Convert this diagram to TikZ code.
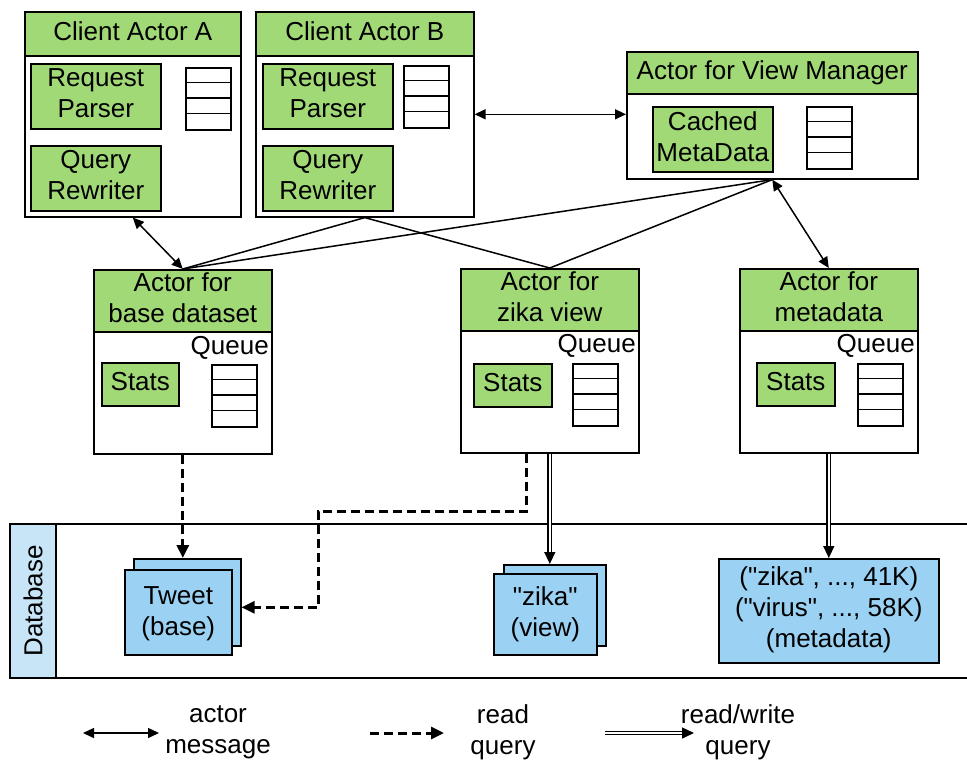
\documentclass[tikz,border=0pt]{standalone}
\usepackage{fontspec}
\setmainfont{Liberation Sans}
\usetikzlibrary{arrows.meta,positioning,calc}

\definecolor{actgreen}{RGB}{162,217,119}
\definecolor{dbblue}{RGB}{155,209,242}
\definecolor{dblight}{RGB}{199,229,247}

\begin{document}
\begin{tikzpicture}[
  x=1pt, y=-1pt,
  every node/.style={font=\fontsize{26}{31}\selectfont, inner sep=0pt, align=center},
  body/.style={rectangle, draw, fill=white, line width=1.6pt, anchor=north west},
  head/.style={body, fill=actgreen, text depth=6pt},
  part/.style={body, fill=actgreen, text depth=6pt},
  qbox/.style={body, minimum width=45pt, minimum height=62pt},
  table/.style={body, fill=dbblue},
  msg/.style={{Triangle[length=11pt,width=10pt]}-{Triangle[length=11pt,width=10pt]}, line width=1.5pt},
  rd/.style={-{Triangle[length=13pt,width=12pt]}, line width=3pt, dash pattern=on 9pt off 5pt},
  rw/.style={-{Triangle[length=12pt,width=11pt]}, double, double distance=2pt, line width=1.4pt},
  link/.style={line width=1.5pt}
]
\useasboundingbox (0,0) rectangle (967,761);

% client actors
\node[body, minimum width=216pt, minimum height=205pt] (clientA) at (24,11) {};
\node[head, minimum width=216pt, minimum height=44pt] (clientAh) at (24,11) {Client Actor A};
\node[part, minimum width=130pt, minimum height=65pt] (parserA) at (30,63) {Request\\Parser};
\node[part, minimum width=130pt, minimum height=65pt] (rewriterA) at (30,145) {Query\\Rewriter};
\node[qbox] (qA) at (185,67) {};

\node[body, minimum width=218pt, minimum height=205pt] (clientB) at (255,11) {};
\node[head, minimum width=218pt, minimum height=44pt] (clientBh) at (255,11) {Client Actor B};
\node[part, minimum width=130pt, minimum height=65pt] (parserB) at (262,63) {Request\\Parser};
\node[part, minimum width=130pt, minimum height=65pt] (rewriterB) at (262,145) {Query\\Rewriter};
\node[qbox] (qB) at (403,65) {};

% view manager
\node[body, minimum width=291pt, minimum height=127pt] (viewMgr) at (626,51) {};
\node[head, minimum width=291pt, minimum height=42pt] (viewMgrh) at (626,51) {Actor for View Manager};
\node[part, minimum width=120pt, minimum height=65pt] (cached) at (652,106) {Cached\\MetaData};
\node[qbox] (qV) at (806,106) {};

% dataset actors
\node[body, minimum width=178pt, minimum height=184pt] (base) at (93,269) {};
\node[head, minimum width=178pt, minimum height=62pt] (baseh) at (93,269) {Actor for\\base dataset};
\node[part, minimum width=77pt, minimum height=43pt] (statsBase) at (101,362) {Stats};
\node[qbox] (qBase) at (211,364) {};
\node[anchor=east] (qlBase) at (269,348) {Queue};

\node[body, minimum width=178pt, minimum height=184pt] (zika) at (460,268) {};
\node[head, minimum width=178pt, minimum height=62pt] (zikah) at (460,268) {Actor for\\zika view};
\node[part, minimum width=78pt, minimum height=43pt] (statsZika) at (473,363) {Stats};
\node[qbox] (qZika) at (572,363) {};
\node[anchor=east] (qlZika) at (636,346) {Queue};

\node[body, minimum width=178pt, minimum height=184pt] (meta) at (739,268) {};
\node[head, minimum width=178pt, minimum height=62pt] (metah) at (739,268) {Actor for\\metadata};
\node[part, minimum width=78pt, minimum height=43pt] (statsMeta) at (756,362) {Stats};
\node[qbox] (qMeta) at (857,363) {};
\node[anchor=east] (qlMeta) at (915,346) {Queue};

\foreach \q in {qA,qB,qV,qBase,qZika,qMeta}
  \foreach \k in {1,2,3}
    \draw[line width=1.6pt] ($(\q.north west)+(0,15.5*\k)$) -- ($(\q.north east)+(0,15.5*\k)$);

% database
\draw[line width=1.6pt] (967,524) -- (10,524) -- (10,678) -- (967,678);
\node[draw, fill=dblight, line width=1.6pt, rotate=90, minimum width=154pt, minimum height=46pt] (dbLabel) at (33,601) {Database};

\node[table, minimum width=107pt, minimum height=87pt] (tweetB) at (133,558) {};
\node[table, minimum width=107pt, minimum height=85pt, text depth=3pt] (tweet) at (124,569) {Tweet\\(base)};
\node[table, minimum width=102pt, minimum height=81pt] (zikaTabB) at (503,564) {};
\node[table, minimum width=103pt, minimum height=81pt] (zikaTab) at (493,573) {\textquotedbl zika\textquotedbl\\(view)};
\node[table, minimum width=220pt, minimum height=104pt, text depth=8pt] (metaTab) at (718,558) {(\textquotedbl zika\textquotedbl, ..., 41K)\\(\textquotedbl virus\textquotedbl, ..., 58K)\\(metadata)};

% messages between actors
\draw[msg] (clientA.south) -- (base.north);
\draw[msg] (clientB.east) -- (clientB.east -| viewMgr.west);
\draw[msg] (viewMgr.south) -- (meta.north);
\foreach \a/\b in {clientB/base, clientB/zika, viewMgr/base, viewMgr/zika}
  \draw[link] (\a.south) -- (\b.north);

% queries
\coordinate (detour) at (318,511);
\draw[rd] (base.south) -- (base.south |- tweetB.north);
\draw[rd] ($(zika.south)+(-23,0)$) |- (detour) |- ($(tweetB.east)+(0,5)$);
\draw[rw] (zika.south) -- (zika.south |- zikaTabB.north);
\draw[rw] (meta.south) -- (meta.south |- metaTab.north);

% legend
\coordinate (msgL) at (83,733);
\coordinate (msgR) at (159,733);
\coordinate (rdL) at (370,733);
\coordinate (rdR) at (444,733);
\coordinate (rwL) at (605,733);
\coordinate (rwR) at (694,733);
\draw[msg] (msgL) -- (msgR);
\draw[rd] (rdL) -- (rdR);
\draw[rw] (rwL) -- (rwR);
\node (lgMsg) at (218,732) {actor\\message};
\node (lgRd) at (503,732) {read\\query};
\node (lgRw) at (738,732) {read/write\\query};

\end{tikzpicture}
\end{document}
